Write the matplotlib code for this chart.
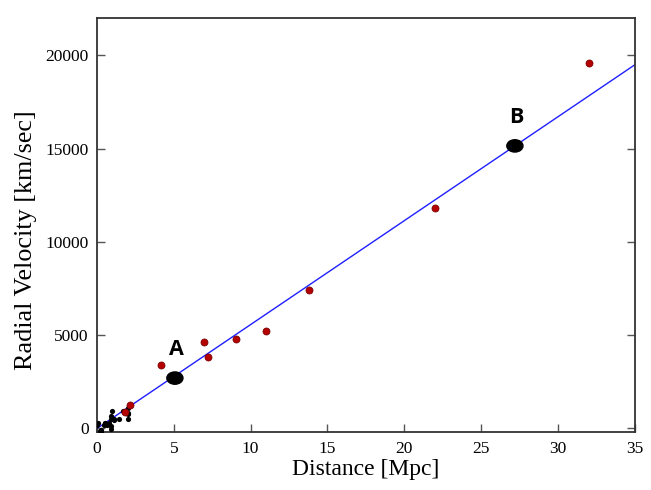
import matplotlib
matplotlib.use('Agg')
import matplotlib.pyplot as plt
import numpy as np
from matplotlib.patches import Ellipse

# Hubble (1929) galaxies - black points
near_dist = [0.032, 0.034, 0.214, 0.263, 0.275, 0.275, 0.45, 0.5, 0.5, 0.63, 0.8, 0.9,
             0.9, 0.9, 0.9, 1.0, 1.1, 1.1, 1.4, 1.7, 2.0, 2.0, 2.0, 2.0]
near_vel = [170, 290, -130, -70, -185, -220, 200, 290, 270, 200, 300, -30,
            650, 150, 500, 920, 450, 500, 500, 960, 500, 850, 800, 1090]

# later galaxies - red points
far_dist = [1.8, 2.15, 4.15, 6.95, 7.2, 9.05, 11.0, 13.8, 22.0, 32.0]
far_vel = [880, 1250, 3380, 4610, 3810, 4770, 5200, 7450, 11800, 19570]

# marked points
mark_names = ['A', 'B']
mark_dist = [5.07, 27.2]
mark_vel = [2700, 15150]

hubble_const = 557.0
fit_range = [0, 35]

fig = plt.figure(figsize=(6.51, 4.9), dpi=100)
ax = fig.add_axes([0.149, 0.118, 0.826, 0.845])

fit_x = np.array(fit_range)
ax.plot(fit_x, hubble_const * fit_x, color='#1f1fff', lw=1.0, zorder=2)

ax.scatter(near_dist, near_vel, s=14, color='black', zorder=3, linewidths=0)
ax.scatter(far_dist, far_vel, s=26, color='#b50000', edgecolors='#700000', linewidths=0.5, zorder=3)

for name, d, v in zip(mark_names, mark_dist, mark_vel):
    ax.add_patch(Ellipse((d, v), width=1.05, height=660, color='black', zorder=4))
    ax.annotate(name, (d, v), xytext=(1, 13), textcoords='offset points', ha='center',
                va='bottom', fontsize=15.5, fontweight='bold', family='Open Sans')

ax.set_xlim(0, 35)
ax.set_ylim(-200, 22000)
ax.set_xticks(np.arange(0, 36, 5))
ax.set_yticks(np.arange(0, 20001, 5000))

ax.tick_params(direction='in', length=6, width=1, color='#555555', labelsize=12.5,
               right=True, top=False, pad=6)
for lab in ax.get_xticklabels() + ax.get_yticklabels():
    lab.set_family('Liberation Serif')
for sp in ax.spines.values():
    sp.set_color('#333333')
    sp.set_linewidth(1.3)

ax.set_xlabel('Distance [Mpc]', family='Liberation Serif', fontsize=17, labelpad=2)
ax.set_ylabel('Radial Velocity [km/sec]', family='Liberation Serif', fontsize=18.8)
ax.yaxis.set_label_coords(-0.112, 0.464)

fig.savefig('out.png', dpi=100)
